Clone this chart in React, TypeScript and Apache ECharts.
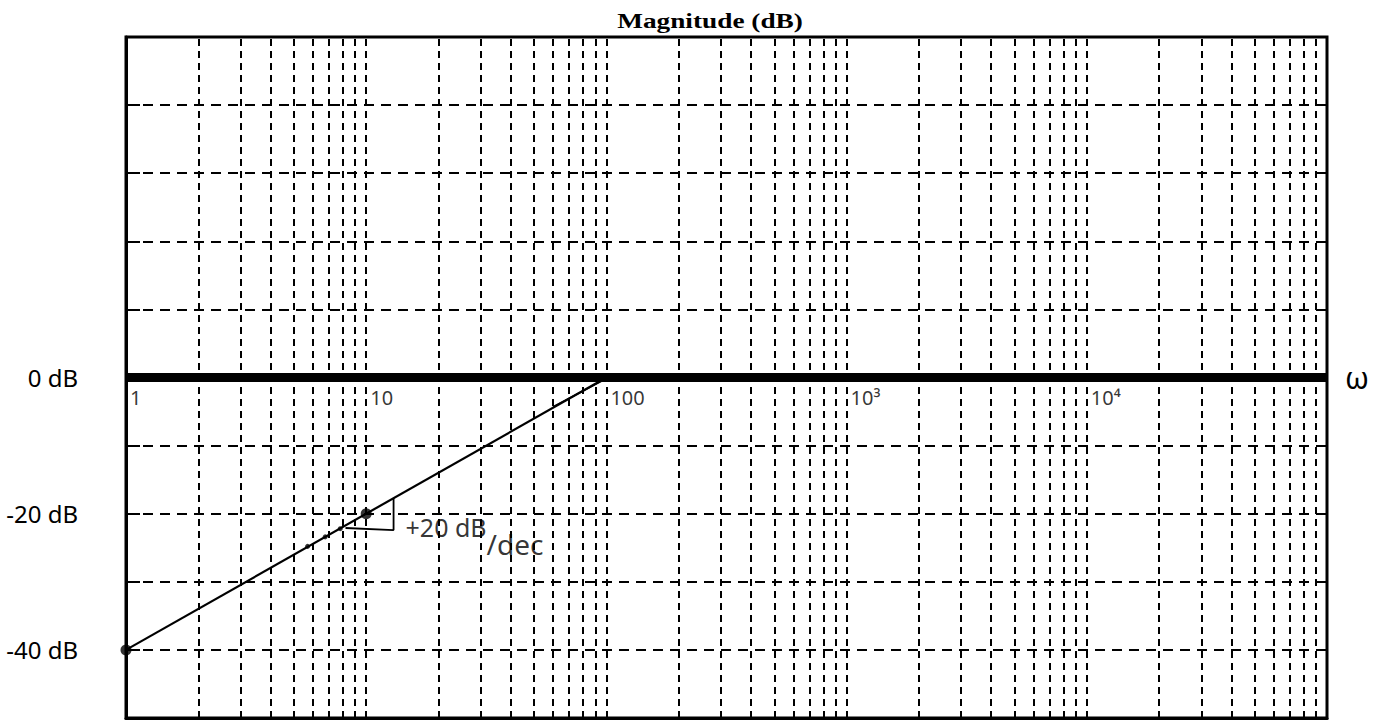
import React, { useEffect, useRef } from "react";
import * as echarts from "echarts";

// ---- data ----
const decades = [1, 10, 100, 1000, 10000];
const minorMultipliers = [2, 3, 4, 5, 6, 7, 8, 9, 10];
const decadeLabels = ["1", "10", "100", "10³", "10⁴"];
const yLabelValues = [0, -20, -40];
const yLabelTexts = ["0 dB", "-20 dB", "-40 dB"];
const asymptoteRise = [[1, -40], [100, 0]];
const asymptoteFlat = [[1, 0], [100000, 0]];
const sketchStroke = [[60, -4.3], [97, -0.4]];
const slopeTriangle = [[8.2, -22.1], [13, -22.4], [13, -17.7]];
const keyPoints = [[1, -40], [10, -20]];
const sketchDots = [[5.7, -24.8], [6.75, -23.4], [7.8, -22.2]];
const slopeNotePoint = [[13, -22.4]];

const HAND = '"Noto Sans", "DejaVu Sans", sans-serif';

export default function App() {
  const ref = useRef<HTMLDivElement>(null);
  useEffect(() => {
    if (!ref.current) return;
    const chart = echarts.init(ref.current, undefined, { renderer: "svg" });
    const gridValues = decades
      .flatMap((d) => minorMultipliers.map((m) => m * d))
      .filter((v) => v < 100000);
    chart.setOption({
      animation: false,
      backgroundColor: "#fff",
      graphic: [
        {
          type: "text",
          x: 710,
          y: 10,
          scaleX: 1.3,
          style: {
            text: "Magnitude (dB)",
            fill: "#000",
            font: 'bold 21px "Liberation Serif", "Times New Roman", serif',
            textAlign: "center",
            textVerticalAlign: "top",
          },
        },
      ],
      grid: {
        left: 126,
        right: 71,
        top: 37,
        bottom: 3,
        show: true,
        borderColor: "#000",
        borderWidth: 3,
        backgroundColor: "transparent",
      },
      xAxis: {
        type: "log",
        logBase: 10,
        min: 1,
        max: 100000,
        axisLine: { show: true, onZero: false, lineStyle: { color: "#000", width: 3 } },
        axisTick: { show: false },
        axisLabel: { show: false },
        splitLine: { show: false },
        minorTick: { show: false },
        minorSplitLine: { show: false },
      },
      yAxis: {
        type: "value",
        min: -50,
        max: 50,
        interval: 10,
        axisLine: { show: true, lineStyle: { color: "#000", width: 3 } },
        axisTick: { show: true, inside: true, length: 14, lineStyle: { color: "#000", width: 2 } },
        axisLabel: {
          margin: 48,
          color: "#000",
          fontFamily: HAND,
          fontSize: 24,
          formatter: (v: number) => {
            const i = yLabelValues.indexOf(v);
            return i >= 0 ? yLabelTexts[i] : "";
          },
        },
        splitLine: {
          show: true,
          lineStyle: { color: "#000", width: 2, type: [10, 7] },
        },
      },
      series: [
        {
          name: "grid",
          type: "line",
          data: [],
          silent: true,
          z: 1,
          markLine: {
            silent: true,
            symbol: ["none", "none"],
            label: { show: false },
            lineStyle: { color: "#000", width: 2, type: [7, 5] },
            data: gridValues.map((v) => ({ xAxis: v })),
          },
        },
        {
          name: "0 dB",
          type: "line",
          data: asymptoteFlat,
          showSymbol: false,
          symbol: "none",
          z: 5,
          lineStyle: { color: "#000", width: 9 },
          endLabel: {
            show: true,
            formatter: "ω",
            distance: 18,
            color: "#000",
            fontFamily: HAND,
            fontSize: 30,
          },
        },
        {
          name: "+20 dB/dec",
          type: "line",
          data: asymptoteRise,
          showSymbol: false,
          symbol: "none",
          z: 6,
          lineStyle: { color: "#000", width: 2.2 },
        },
        {
          name: "sketch",
          type: "line",
          data: sketchStroke,
          showSymbol: false,
          symbol: "none",
          z: 6,
          lineStyle: { color: "#000", width: 1.5 },
        },
        {
          name: "slope triangle",
          type: "line",
          data: slopeTriangle,
          showSymbol: false,
          symbol: "none",
          z: 6,
          lineStyle: { color: "#000", width: 1.8 },
        },
        {
          name: "points",
          type: "scatter",
          data: keyPoints,
          symbolSize: 11,
          clip: false,
          z: 7,
          itemStyle: { color: "#000" },
        },
        {
          name: "dots",
          type: "scatter",
          data: sketchDots,
          symbolSize: 5,
          clip: false,
          z: 7,
          itemStyle: { color: "#000" },
        },
        {
          name: "decade labels",
          type: "scatter",
          data: decades.map((d) => [d, 0]),
          symbolSize: 0,
          clip: false,
          z: 8,
          label: {
            show: true,
            position: [4, 10],
            color: "#000",
            fontFamily: HAND,
            fontSize: 20,
            formatter: (p: any) => decadeLabels[p.dataIndex],
          },
        },
        {
          name: "slope note",
          type: "scatter",
          data: slopeNotePoint,
          symbolSize: 0,
          clip: false,
          z: 8,
          label: {
            show: true,
            position: [12, -16],
            formatter: "{a|+20 dB}{b|/dec}",
            rich: {
              a: { fontFamily: HAND, fontSize: 25, color: "#000", verticalAlign: "top" },
              b: {
                fontFamily: HAND,
                fontSize: 28,
                color: "#000",
                verticalAlign: "top",
                padding: [16, 0, 0, 0],
              },
            },
          },
        },
      ],
    });
    return () => chart.dispose();
  }, []);
  return (
    <div
      ref={ref}
      style={{ position: "fixed", left: 0, top: 0, width: 1398, height: 721, background: "#fff" }}
    />
  );
}
